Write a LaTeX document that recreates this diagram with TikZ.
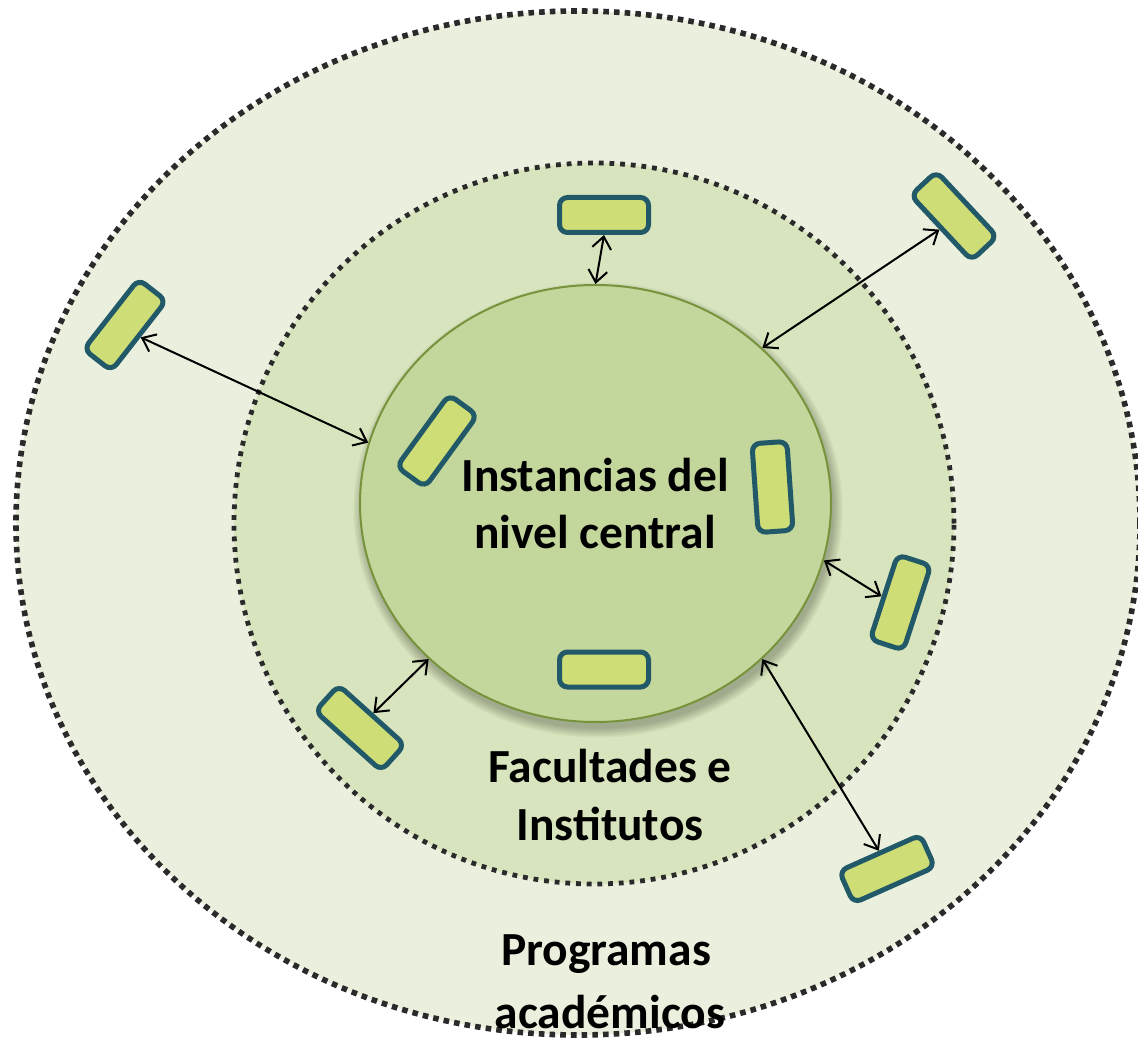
\documentclass[tikz,border=0pt]{standalone}
\usepackage{fontspec}
\setmainfont{Carlito}
\usetikzlibrary{arrows.meta,shapes.geometric}
\definecolor{outerfill}{HTML}{EBF0DE}
\definecolor{midfill}{HTML}{D8E4BD}
\definecolor{innerfill}{HTML}{C3D69B}
\definecolor{innerline}{HTML}{77933C}
\definecolor{dotcol}{HTML}{2A2A2A}
\definecolor{boxfill}{HTML}{CFDD77}
\definecolor{boxline}{HTML}{215968}
\tikzset{
  ring/.style={shape=ellipse, inner sep=0pt, draw=dotcol, line cap=butt},
  box/.style={draw=boxline, fill=boxfill, line width=5pt, rounded corners=8pt,
    minimum width=89pt, minimum height=35pt, inner sep=0pt},
  conn/.style={line width=2pt, draw=black,
    {Straight Barb[length=12pt,width=19pt]}-{Straight Barb[length=12pt,width=19pt]}},
  txt/.style={font=\fontsize{47.5}{57}\selectfont\bfseries, anchor=base, inner sep=0pt, text=black}
}
\begin{document}
\begin{tikzpicture}[x=1pt,y=-1pt]
\useasboundingbox (0,0) rectangle (1138,1040);
\fill[white] (0,0) rectangle (1138,1040);
% rings
\node[ring, fill=outerfill, line width=5.6pt, dash pattern=on 5.6pt off 5.1pt,
  minimum width=1124pt, minimum height=1024pt] (outer) at (578,523) {};
\node[ring, fill=midfill, line width=4.8pt, dash pattern=on 4.8pt off 5.9pt,
  minimum width=720pt, minimum height=721pt] (middle) at (594,523.5) {};
% soft shadow of the inner ellipse
\foreach \k in {0,1.5,...,9}{
  \fill[black, opacity=0.04] (598,510) ellipse [x radius=235.5pt+\k pt, y radius=218.5pt+\k pt];
}
\node[shape=ellipse, inner sep=0pt, draw=innerline, line width=2pt, fill=innerfill,
  minimum width=471pt, minimum height=437pt] (inner) at (595.5,503.5) {};
% boxes
\node[box] (r1) at (604,215) {};
\node[box] (r2) at (604,669.5) {};
\node[box, rotate=54] (r3) at (437,441) {};
\node[box, rotate=94] (r4) at (772.5,487) {};
\node[box, rotate=72] (r5) at (900.5,602.5) {};
\node[box, rotate=52] (r6) at (125,325) {};
\node[box, rotate=-47] (r7) at (954,216) {};
\node[box, rotate=-42] (r8) at (360,728) {};
\node[box, rotate=24] (r9) at (887,869) {};
% connectors
\draw[conn] (r1.south) -- (inner.90);
\draw[conn] (r7.south) -- (inner.43);
\draw[conn] (r6.south) -- (inner.165);
\draw[conn] (r5.north) -- (inner.-14.7);
\draw[conn] (r9.north) -- (inner.-43.2);
\draw[conn] (r8.north) -- (inner.223);
% texts
\node[txt] (t1) at (595,491) {Instancias del};
\node[txt] (t2) at (595,548) {nivel central};
\node[txt] (t3) at (610,782) {Facultades e};
\node[txt] (t4) at (610,840) {Institutos};
\node[txt] (t5) at (606,965) {Programas};
\node[txt] (t6) at (610,1028) {académicos};
\end{tikzpicture}
\end{document}
